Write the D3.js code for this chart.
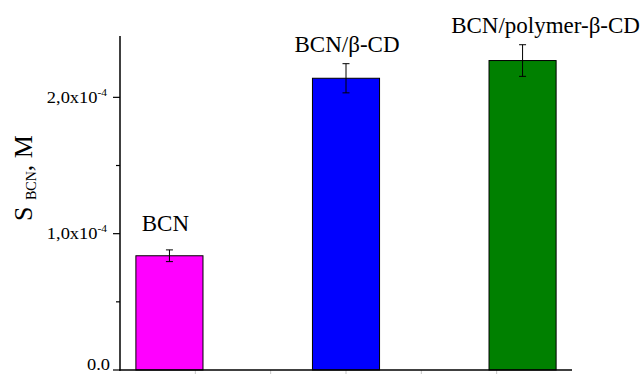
<!DOCTYPE html>
<html>
<head>
<meta charset="utf-8">
<script src="https://cdn.jsdelivr.net/npm/d3@7/dist/d3.min.js"></script>
<style>
  html, body { margin: 0; padding: 0; background: #fff; }
  svg { display: block; }
  text { font-family: "Liberation Serif", Tinos, "Times New Roman", Times, "DejaVu Serif", serif; }
</style>
</head>
<body>
<div id="chart"></div>
<script>
// ---- data ----
const categories = ["BCN", "BCN/β-CD", "BCN/polymer-β-CD"];
const values = [0.838e-4, 2.14e-4, 2.27e-4];
const errors = [0.043e-4, 0.107e-4, 0.116e-4];
const colors = ["#FF00FF", "#0000FF", "#008000"];
const majorTicks = [0, 1e-4, 2e-4];
const minorTicks = [0.5e-4, 1.5e-4];
const tickMantissa = ["0.0", "1,0x10", "2,0x10"];
const tickExponent = ["", "-4", "-4"];

// ---- layout ----
const W = 641, H = 374;
const axisLeft = 120, axisRight = 572, axisBottom = 370, axisTop = 36;
const FONT = "Liberation Serif";

const svg = d3.select("#chart").append("svg")
  .attr("width", W).attr("height", H).attr("viewBox", `0 0 ${W} ${H}`);

const x = d3.scaleBand().domain(categories)
  .range([axisLeft, axisRight]).paddingInner(0.62).paddingOuter(0.09);
const y = d3.scaleLinear().domain([0, 2.45e-4]).range([axisBottom, axisTop]);

// faint x ticks (below the axis)
const xt = d3.scaleLinear().domain([0, 6]).range([axisLeft, axisLeft + 452]);
svg.append("g").selectAll("line").data(d3.range(1, 6)).join("line")
  .attr("x1", d => xt(d)).attr("x2", d => xt(d))
  .attr("y1", axisBottom).attr("y2", axisBottom + 5)
  .attr("stroke", "#c8c8c8").attr("stroke-width", 1);

// bars
svg.append("g").selectAll("rect").data(categories).join("rect")
  .attr("x", d => x(d)).attr("width", x.bandwidth())
  .attr("y", (d, i) => y(values[i]))
  .attr("height", (d, i) => y(0) - y(values[i]))
  .attr("fill", (d, i) => colors[i])
  .attr("stroke", "#000").attr("stroke-width", 1);

// error bars
const eb = svg.append("g").attr("stroke", "#000").attr("stroke-width", 1);
categories.forEach((c, i) => {
  const cx = x(c) + x.bandwidth() / 2;
  const y1 = y(values[i] + errors[i]), y2 = y(values[i] - errors[i]);
  eb.append("line").attr("x1", cx).attr("x2", cx).attr("y1", y1).attr("y2", y2);
  eb.append("line").attr("x1", cx - 3.5).attr("x2", cx + 3.5).attr("y1", y1).attr("y2", y1);
  eb.append("line").attr("x1", cx - 3.5).attr("x2", cx + 3.5).attr("y1", y2).attr("y2", y2);
});

// bar labels
const labelDx = [-4, 1, 23];
const labelGap = [19, 12, 12];
svg.append("g").selectAll("text").data(categories).join("text")
  .attr("x", (d, i) => x(d) + x.bandwidth() / 2 + labelDx[i])
  .attr("y", (d, i) => y(values[i] + errors[i]) - labelGap[i])
  .attr("text-anchor", "middle")
  .attr("font-family", FONT)
  .attr("font-size", 23)
  .attr("fill", "#000")
  .text(d => d);

// y axis
const ya = svg.append("g");
ya.append("line").attr("x1", axisLeft).attr("x2", axisLeft)
  .attr("y1", axisTop).attr("y2", axisBottom + 0.75)
  .attr("stroke", "#000").attr("stroke-width", 1.5);
ya.selectAll("line.maj").data(majorTicks).join("line").attr("class", "maj")
  .attr("x1", axisLeft - 7).attr("x2", axisLeft)
  .attr("y1", d => y(d)).attr("y2", d => y(d))
  .attr("stroke", "#000").attr("stroke-width", 1.2);
ya.selectAll("line.min").data(minorTicks).join("line").attr("class", "min")
  .attr("x1", axisLeft - 4).attr("x2", axisLeft)
  .attr("y1", d => y(d)).attr("y2", d => y(d))
  .attr("stroke", "#000").attr("stroke-width", 1.2);
majorTicks.forEach((v, i) => {
  const yy = i === 0 ? y(v) : y(v) + 5.5;
  const t = ya.append("text")
    .attr("transform", `translate(${axisLeft - (i === 0 ? 10 : 13)},${yy}) scale(1.15,1)`)
    .attr("text-anchor", "end").attr("font-family", FONT).attr("font-size", 16).attr("fill", "#000");
  t.append("tspan").text(tickMantissa[i]);
  if (tickExponent[i]) {
    t.append("tspan").attr("font-size", 10).attr("dy", -7).text(tickExponent[i]);
  }
});

// x axis
svg.append("line").attr("x1", axisLeft - 0.75).attr("x2", axisRight)
  .attr("y1", axisBottom).attr("y2", axisBottom)
  .attr("stroke", "#000").attr("stroke-width", 1.5);

// y title
const title = svg.append("text")
  .attr("transform", `translate(32,178) rotate(-90)`)
  .attr("text-anchor", "middle").attr("font-family", FONT).attr("font-size", 26).attr("fill", "#000");
title.append("tspan").text("S ");
title.append("tspan").attr("font-size", 14).attr("dy", 4).text("BCN");
title.append("tspan").attr("dy", -4).text(", M");
</script>
</body>
</html>
